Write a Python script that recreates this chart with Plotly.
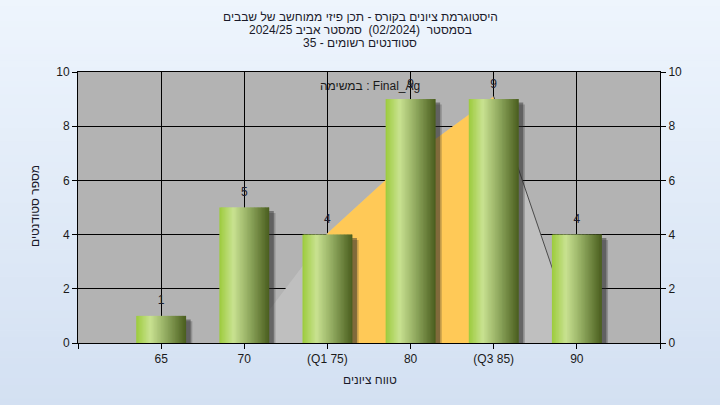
import plotly.graph_objects as go

# ---------------- data ----------------
categories = ["65", "70", "(Q1 75)", "80", "(Q3 85)", "90"]
counts = [1, 5, 4, 9, 9, 4]
# normal-curve overlay values read at category positions (index 1..5)
curve_x = [1, 2, 3, 4, 5]
curve_y = [0.0, 4.05, 6.85, 9.1, 0.1]
iqr_x = [2, 3, 4]
iqr_y = [4.05, 6.85, 9.1]
tail_x = [4, 5]
tail_y = [9.1, 0.1]
y_ticks = [0, 2, 4, 6, 8, 10]

title_lines = [
    "היסטוגרמת ציונים בקורס - תכן פיזי ממוחשב של שבבים",
    "בסמסטר  (02/2024)  סמסטר אביב 2024/25",
    "סטודנטים רשומים - 35",
]
task_label = "במשימה : Final_Ag"
x_title = "טווח ציונים"
y_title = "מספר סטודנטים"

# ---------------- geometry ----------------
W, H = 720, 405
L, R, T, B = 78, 60, 72, 62
PW, PH = W - L - R, H - T - B
FONT = "Liberation Sans, Arial, DejaVu Sans, sans-serif"

def py(ypx):
    return 1 - (ypx - T) / PH

def px(xpx):
    return (xpx - L) / PW

def hex2rgb(h):
    h = h.lstrip("#")
    return tuple(int(h[i:i + 2], 16) for i in (0, 2, 4))

def lerp_color(stops, t):
    for (t0, c0), (t1, c1) in zip(stops, stops[1:]):
        if t0 <= t <= t1:
            f = (t - t0) / (t1 - t0) if t1 > t0 else 0
            a, b = hex2rgb(c0), hex2rgb(c1)
            return "rgb(%d,%d,%d)" % tuple(round(a[i] + (b[i] - a[i]) * f) for i in range(3))
    return stops[-1][1]

xs = list(range(len(categories)))
fig = go.Figure()

# curve areas (primary subplot, below the bars subplot)
fig.add_trace(go.Scatter(x=curve_x, y=curve_y, mode="lines", fill="tozeroy",
                         line=dict(width=0, color="#BFBFBF"), fillcolor="#BFBFBF",
                         hoverinfo="skip", showlegend=False))
fig.add_trace(go.Scatter(x=iqr_x, y=iqr_y, mode="lines", fill="tozeroy",
                         line=dict(width=0, color="#FFC957"), fillcolor="#FFC957",
                         hoverinfo="skip", showlegend=False))
fig.add_trace(go.Scatter(x=tail_x, y=tail_y, mode="lines",
                         line=dict(width=1, color="#4a4a4a"),
                         hoverinfo="skip", showlegend=False))

BW = 0.6
# shadows (on overlay subplot y2 so they sit above the curve)
for dx, dy, op in [(0.075, 0.2, 0.25), (0.055, 0.13, 0.45)]:
    fig.add_trace(go.Bar(x=xs, y=[c - dy + 0.12 for c in counts], base=-0.12,
                         width=BW, offset=-BW / 2 + dx, yaxis="y2",
                         marker=dict(color="rgba(40,40,40,%g)" % op, line=dict(width=0)),
                         cliponaxis=False, hoverinfo="skip", showlegend=False))

# gradient bars (vertical slices)
stops = [(0.0, "#9CCB3C"), (0.28, "#C9E291"), (0.62, "#8DA65C"), (1.0, "#4A5D1E")]
N = 36
sw = BW / N
for i in range(N):
    t = (i + 0.5) / N
    fig.add_trace(go.Bar(x=xs, y=counts, width=sw * 1.8 if i < N - 1 else sw,
                         offset=-BW / 2 + i * sw, yaxis="y2",
                         marker=dict(color=lerp_color(stops, t), line=dict(width=0)),
                         hoverinfo="skip", showlegend=False))

# value labels
fig.add_trace(go.Scatter(x=xs, y=counts, mode="markers+text", text=[str(c) for c in counts],
                         textposition="top center", yaxis="y2",
                         marker=dict(size=12, opacity=0),
                         textfont=dict(family=FONT, size=12, color="#1c1c2c"),
                         hoverinfo="skip", showlegend=False))

# background gradient bands
shapes = []
NB = 60
top_c, bot_c = "#D3E0F2", "#EEF5FD"
for k in range(NB):
    y0 = -B / PH + (H / PH) * k / NB
    y1 = -B / PH + (H / PH) * (k + 1) / NB + 0.002
    t = 1 - (k + 0.5) / NB
    shapes.append(dict(type="rect", xref="paper", yref="paper",
                       x0=-L / PW, x1=1 + R / PW, y0=y0, y1=y1, layer="below",
                       line=dict(width=0), fillcolor=lerp_color([(0, bot_c), (1, top_c)], t)))
shapes.append(dict(type="rect", xref="paper", yref="paper", x0=0, x1=1, y0=0, y1=1,
                   layer="below", line=dict(width=0), fillcolor="#B3B3B3"))

annotations = []
for j, line in enumerate(title_lines):
    annotations.append(dict(text=line, xref="paper", yref="paper", x=px(360), y=py(17 + 13 * j),
                            xanchor="center", yanchor="middle", showarrow=False,
                            font=dict(family=FONT, size=12, color="#1a1a2a")))
annotations.append(dict(text=task_label, xref="paper", yref="paper", x=px(370), y=py(86),
                        xanchor="center", yanchor="middle", showarrow=False,
                        font=dict(family=FONT, size=12, color="#1a1a1a")))
annotations.append(dict(text=x_title, xref="paper", yref="paper", x=px(370), y=py(380),
                        xanchor="center", yanchor="middle", showarrow=False,
                        font=dict(family=FONT, size=12, color="#1a1a2a")))
annotations.append(dict(text=y_title, xref="paper", yref="paper", x=px(35), y=py(206),
                        xanchor="center", yanchor="middle", showarrow=False, textangle=-90,
                        font=dict(family=FONT, size=12, color="#1a1a2a")))

axis_font = dict(family=FONT, size=12, color="#1a1a1a")
fig.update_layout(
    width=W, height=H,
    margin=dict(l=L, r=R, t=T, b=B),
    paper_bgcolor="#E2ECF8",
    plot_bgcolor="rgba(0,0,0,0)",
    barmode="overlay",
    showlegend=False,
    hovermode=False,
    shapes=shapes,
    annotations=annotations,
    xaxis=dict(range=[-1, 6], tickmode="array", tickvals=list(range(-1, 7)),
               ticktext=[""] + categories + [""], showgrid=True, gridcolor="#000000",
               gridwidth=1, ticks="outside", ticklen=5, tickcolor="#000000",
               showline=True, linecolor="#000000", mirror=True, zeroline=False,
               tickfont=axis_font, fixedrange=True),
    yaxis=dict(range=[0, 10], tickvals=y_ticks, showgrid=True, gridcolor="#000000",
               gridwidth=1, ticks="outside", ticklen=5, tickcolor="#000000",
               showline=True, linecolor="#000000", zeroline=False, tickfont=axis_font,
               fixedrange=True),
    yaxis2=dict(range=[0, 10], tickvals=y_ticks, overlaying="y", side="right",
                showgrid=False, ticks="outside", ticklen=5, tickcolor="#000000",
                showline=True, linecolor="#000000", zeroline=False, tickfont=axis_font,
                fixedrange=True),
)

fig.write_html("out.html", config={"displayModeBar": False, "staticPlot": True},
               post_script="document.body.style.margin='0';document.body.style.overflow='hidden';")
